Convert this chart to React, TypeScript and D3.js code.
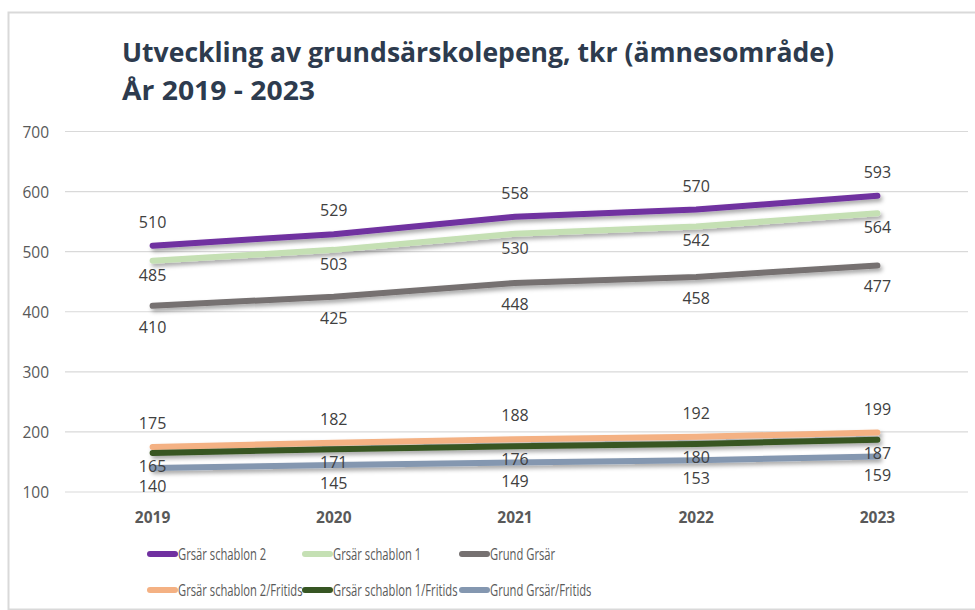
import React, { useEffect, useRef } from "react";
import * as d3 from "d3";

const years = ["2019", "2020", "2021", "2022", "2023"];
const yTicks = [100, 200, 300, 400, 500, 600, 700];

const seriesNames = [
  "Grsär schablon 2",
  "Grsär schablon 1",
  "Grund Grsär",
  "Grsär schablon 2/Fritids",
  "Grsär schablon 1/Fritids",
  "Grund Grsär/Fritids",
];
const seriesColors = ["#7030a0", "#c5e0b4", "#767171", "#f4b183", "#375623", "#8497b0"];

const schablon2 = [510, 529, 558, 570, 593];
const schablon1 = [485, 503, 530, 542, 564];
const grund = [410, 425, 448, 458, 477];
const schablon2Fritids = [175, 182, 188, 192, 199];
const schablon1Fritids = [165, 171, 176, 180, 187];
const grundFritids = [140, 145, 149, 153, 159];

const seriesValues = [schablon2, schablon1, grund, schablon2Fritids, schablon1Fritids, grundFritids];
// label offset from line (px, negative = above)
const labelOffset = [-24, 14, 21, -24, 13, 18];

export default function App() {
  const svgRef = useRef<SVGSVGElement>(null);

  useEffect(() => {
    if (!svgRef.current) return;
    const width = 975;
    const svg = d3.select(svgRef.current);
    svg.selectAll("*").remove();

    const font = "'Open Sans', 'Noto Sans', sans-serif";

    // frame
    svg.append("rect")
      .attr("x", 8.5).attr("y", 12.5)
      .attr("width", width).attr("height", 597)
      .attr("fill", "#fff").attr("stroke", "#d9d9d9").attr("stroke-width", 2);

    // shadow filter
    const defs = svg.append("defs");
    const f = defs.append("filter").attr("id", "shadow")
      .attr("x", "-5%").attr("y", "-50%").attr("width", "110%").attr("height", "300%");
    f.append("feDropShadow")
      .attr("dx", 2).attr("dy", 3).attr("stdDeviation", 2)
      .attr("flood-color", "#000").attr("flood-opacity", 0.35);

    // title
    const title = svg.append("text")
      .attr("font-family", font).attr("font-weight", 700)
      .attr("fill", "#2d3b4e").attr("font-size", 26);
    title.append("tspan").attr("x", 122).attr("y", 62)
      .attr("textLength", 712).attr("lengthAdjust", "spacingAndGlyphs")
      .text("Utveckling av grundsärskolepeng, tkr (ämnesområde)");
    title.append("tspan").attr("x", 122).attr("y", 100)
      .attr("textLength", 193).attr("lengthAdjust", "spacingAndGlyphs")
      .text("År 2019 - 2023");

    const x = d3.scaleBand().domain(years).range([62, 968]);
    const y = d3.scaleLinear().domain([100, 700]).range([492, 131.5]);
    const cx = (i: number) => x(years[i])! + x.bandwidth() / 2;

    // grid
    svg.append("g").selectAll("line").data(yTicks).join("line")
      .attr("x1", 65).attr("x2", 968)
      .attr("y1", d => y(d)).attr("y2", d => y(d))
      .attr("stroke", "#d9d9d9").attr("stroke-width", 1.2);

    svg.append("g").selectAll("text").data(yTicks).join("text")
      .attr("x", 49).attr("y", d => y(d) + 6)
      .attr("text-anchor", "end")
      .attr("font-family", font).attr("font-size", 15.5)
      .attr("fill", "#595959")
      .text(d => d);

    svg.append("g").selectAll("text").data(years).join("text")
      .attr("x", d => x(d)! + x.bandwidth() / 2).attr("y", 523)
      .attr("text-anchor", "middle")
      .attr("font-family", font).attr("font-size", 15.5).attr("font-weight", 700)
      .attr("fill", "#595959")
      .text(d => d);

    const line = d3.line<number>()
      .x((_, i) => cx(i))
      .y(d => y(d));

    seriesValues.forEach((vals, s) => {
      svg.append("path")
        .datum(vals)
        .attr("fill", "none")
        .attr("stroke", seriesColors[s])
        .attr("stroke-width", 6)
        .attr("stroke-linecap", "round")
        .attr("filter", "url(#shadow)")
        .attr("d", line);
    });

    seriesValues.forEach((vals, s) => {
      svg.append("g").selectAll("text").data(vals).join("text")
        .attr("x", (_, i) => cx(i))
        .attr("y", d => y(d) + labelOffset[s] + 6)
        .attr("text-anchor", "middle")
        .attr("font-family", font).attr("font-size", 16)
        .attr("fill", "#404040")
        .text(d => d);
    });

    // legend
    const legendCols = [147, 302, 459];
    const legendRows = [554, 590];
    seriesNames.forEach((name, i) => {
      const lx = legendCols[i % 3];
      const ly = legendRows[Math.floor(i / 3)];
      const g = svg.append("g");
      g.append("line")
        .attr("x1", lx + 3).attr("x2", lx + 28)
        .attr("y1", ly).attr("y2", ly)
        .attr("stroke", seriesColors[i]).attr("stroke-width", 6)
        .attr("stroke-linecap", "round");
      g.append("text")
        .attr("transform", `translate(${lx + 31},${ly + 6}) scale(0.68,1)`)
        .attr("font-family", font).attr("font-size", 16.5)
        .attr("fill", "#595959")
        .text(name);
    });
  }, []);

  return (
    <svg
      ref={svgRef}
      width={975}
      height={610}
      style={{ position: "absolute", left: 0, top: 0, background: "#fff" }}
    />
  );
}
